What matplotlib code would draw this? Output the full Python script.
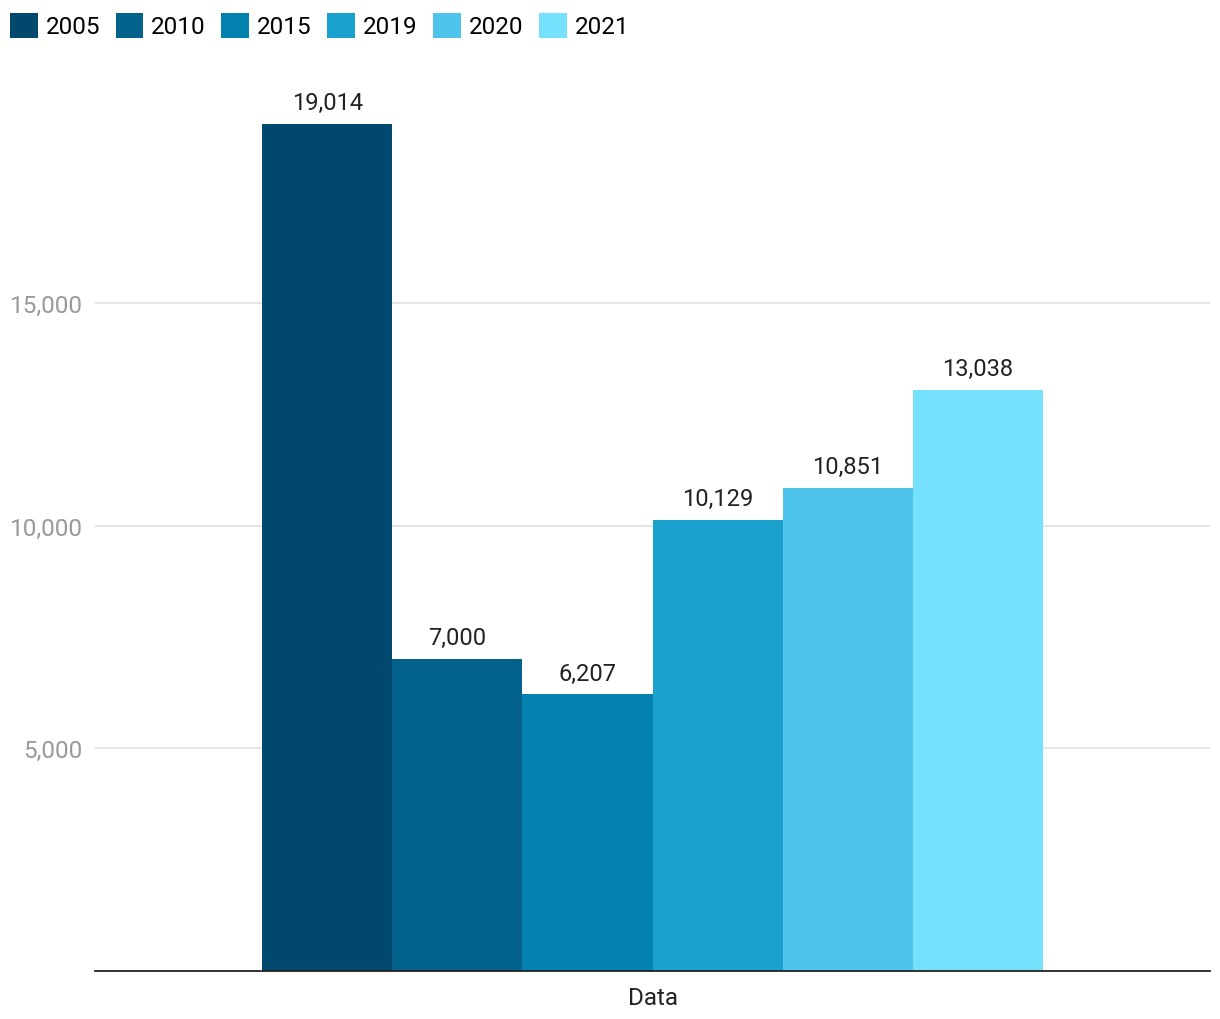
import matplotlib
matplotlib.use("Agg")
import matplotlib.pyplot as plt
import numpy as np

plt.rcParams['font.family'] = ['Roboto', 'DejaVu Sans']

years = ["2005", "2010", "2015", "2019", "2020", "2021"]
values = [19014, 7000, 6207, 10129, 10851, 13038]
colors = ["#01486E", "#03628C", "#0382AF", "#1AA1CE", "#4EC3EC", "#75E1FD"]
category = "Data"
yticks = [5000, 10000, 15000]

fig = plt.figure(figsize=(12.2, 10.2), dpi=100)
ax = fig.add_axes([95/1220, 1-972/1020, 1115/1220, (972-81)/1020])

n = len(values)
bw = 0.7 / n
offsets = (np.arange(n) - (n - 1) / 2) * bw
handles = []
for off, v, c, y in zip(offsets, values, colors, years):
    b = ax.bar(off, v, width=bw, color=c, label=y, zorder=3)
    handles.append(b)
    ax.annotate(f"{v:,}", (off, v), xytext=(0, 7), textcoords="offset points",
                ha="center", va="bottom", fontsize=17, color="#222222")

ax.set_xlim(-0.5, 0.5)
ax.set_ylim(0, 20000)
ax.set_yticks(yticks)
ax.set_yticklabels([f"{t:,}" for t in yticks])
ax.set_xticks([0])
ax.set_xticklabels([category])
ax.tick_params(axis='y', length=0, pad=9, labelsize=17.5, labelcolor="#999999")
ax.tick_params(axis='x', length=0, pad=11, labelsize=17.5, labelcolor="#222222")
ax.grid(axis='y', color="#e3e3e3", linewidth=1.3, zorder=0)
for s in ["top", "right", "left"]:
    ax.spines[s].set_visible(False)
ax.spines["bottom"].set_color("#222222")
ax.spines["bottom"].set_linewidth(1.3)
ax.spines["bottom"].set_zorder(4)

fig.legend(handles=handles, labels=years, loc="upper left",
           bbox_to_anchor=(0/1220, 1-4/1020), ncol=6, frameon=False,
           fontsize=17.5, handlelength=1.15, handleheight=1.2, handletextpad=0.32,
           columnspacing=0.64, borderaxespad=0)

fig.savefig("out.png", dpi=100)
